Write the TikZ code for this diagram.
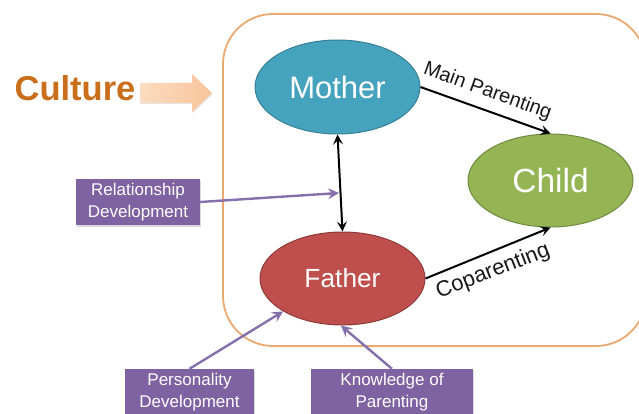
\documentclass[tikz,border=0pt]{standalone}
\usepackage{fontspec}
\setmainfont{Liberation Sans}
\usetikzlibrary{arrows.meta,shapes.geometric,shadows}
\definecolor{mothfill}{HTML}{45A3BE}
\definecolor{mothdraw}{HTML}{367F95}
\definecolor{fathfill}{HTML}{BE4F4C}
\definecolor{fathdraw}{HTML}{8E3B39}
\definecolor{chilfill}{HTML}{95B555}
\definecolor{childraw}{HTML}{6F8A3E}
\definecolor{boxfill}{HTML}{7F62A1}
\definecolor{linkpurple}{HTML}{8570AB}
\definecolor{frameorange}{HTML}{E9A96F}
\definecolor{culturetext}{HTML}{C96F1C}
\definecolor{arrowlight}{HTML}{FBDCC0}
\definecolor{arrowdark}{HTML}{F9C49A}
\tikzset{
  person/.style={ellipse,draw,line width=1pt,inner sep=0pt,text=white,font=\fontsize{#1}{#1}\selectfont},
  infobox/.style={rectangle,fill=boxfill,text=white,inner sep=0pt,align=center,
    font=\fontsize{17}{21.5}\selectfont,
    drop shadow={shadow xshift=1pt,shadow yshift=-2pt,opacity=.3,fill=gray}},
  blackarrow/.style={line width=2pt,draw=black,-{Stealth[length=10pt,width=10pt,inset=4pt]}},
  purplearrow/.style={line width=2.4pt,draw=linkpurple,-{Stealth[length=11pt,width=11pt,inset=4pt]}},
  edgetext/.style={inner sep=0pt,text=black!90},
}
\begin{document}
\begin{tikzpicture}[x=1pt,y=-1pt]
\useasboundingbox (0,0) rectangle (639,414);
\clip (0,0) rectangle (639,414);
\draw[frameorange,line width=1.8pt,rounded corners=50pt] (223,14) rectangle (646,346);
\node[person=31,fill=mothfill,draw=mothdraw,minimum width=165pt,minimum height=94pt] (mother) at (337.5,87) {Mother};
\node[person=33.5,fill=chilfill,draw=childraw,minimum width=165pt,minimum height=93pt] (child) at (550.5,180.5) {Child};
\node[person=26.3,fill=fathfill,draw=fathdraw,minimum width=165pt,minimum height=93pt] (father) at (342.5,278.5) {Father};
\node[infobox,minimum width=124pt,minimum height=46pt] (rel) at (138,202) {Relationship\\Development};
\node[infobox,minimum width=129pt,minimum height=46pt] (pers) at (189.5,392) {Personality\\Development};
\node[infobox,minimum width=162pt,minimum height=46pt] (know) at (392,392) {Knowledge of\\Parenting};
\node[inner sep=0pt,font=\fontsize{34.5}{34.5}\selectfont\bfseries,text=culturetext] (culture) at (75,88) {Culture};
\fill[gray,opacity=.2] (141,84.5) -- (193,84.5) -- (193,75.5) -- (213,94) -- (193,113) -- (193,104) -- (141,104) -- cycle;
\shade[left color=arrowlight,right color=arrowdark] (140,83) -- (192,83) -- (192,74) -- (212,93) -- (192,112) -- (192,103) -- (140,103) -- cycle;
\coordinate (relend) at (339,193);
\draw[blackarrow,{Stealth[length=10pt,width=10pt,inset=4pt]}-{Stealth[length=10pt,width=10pt,inset=4pt]}] (mother.south) -- (father.north);
\draw[blackarrow] (mother.east) -- (child.north);
\draw[blackarrow] (father.east) -- (child.south);
\draw[purplearrow] (rel.east) -- (relend);
\draw[purplearrow] (pers.north) -- (father.209);
\draw[purplearrow] (know.north) -- (father.268);
\node[edgetext,rotate=-20,font=\fontsize{20}{20}\selectfont] (mainlabel) at (487.5,91.5) {Main Parenting};
\node[edgetext,rotate=21,font=\fontsize{22}{22}\selectfont] (colabel) at (493,271.5) {Coparenting};
\end{tikzpicture}
\end{document}
